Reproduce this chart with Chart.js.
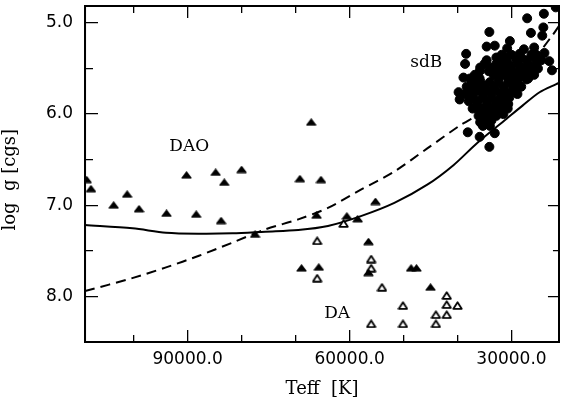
<!DOCTYPE html>
<html>
<head>
<meta charset="utf-8">
<script src="https://cdn.jsdelivr.net/npm/chart.js@4.4.1/dist/chart.umd.min.js"></script>
<style>
html,body{margin:0;padding:0;background:#fff;}
#wrap{width:565px;height:402px;position:relative;}
</style>
</head>
<body>
<div id="wrap"><canvas id="c"></canvas></div>
<script>
// ---------- data ----------
// sdB stars (filled circles)
const sdbTeff = [
  21800, 24000, 27100, 24100, 26400, 24300, 34100, 30300, 34600, 33100,
  30800, 38400, 38600, 27700, 28500, 23000, 25100, 32100, 35800, 38900,
  39800, 39600, 36600, 36400, 35800, 34300, 31500, 30600, 38100, 35900,
  33100, 34100, 28500, 27200, 34600, 25800, 23900, 22500,
  31800, 30000, 26300, 25400,
  32800, 30900, 28200, 25800,
  34600, 30900, 29100, 27200, 24500,
  35000, 32800, 30600, 28700, 26900, 25400,
  33700, 31800, 30000, 28200, 26300,
  35900, 34200, 32400, 30600, 28700, 26900,
  36800, 33300, 31500, 29600, 27800, 25800,
  37700, 35900, 32400, 30600, 28700, 26900,
  37300, 35700, 34000, 32400, 30600, 29100,
  38300, 36600, 35000, 33300, 31500, 29800, 28200,
  37900, 36200, 34600, 32900, 31300, 29600,
  38600, 37000, 35300, 33700, 32000, 30400, 28900,
  37200, 35300, 33700, 32000, 30400,
  37900, 36200, 34400, 32800, 31100,
  36400, 34600, 32900, 31700,
  37200, 35300, 33700, 32200, 30700,
  35500, 33700, 32800,
  36100, 34400, 32800,
  35000, 33700,
  35300, 34000
];
const sdbLogg = [
  4.83, 4.90, 4.95, 5.05, 5.11, 5.14, 5.10, 5.20, 5.26, 5.25,
  5.28, 5.34, 5.45, 5.29, 5.34, 5.42, 5.50, 5.43, 5.49, 5.60,
  5.76, 5.84, 5.71, 5.94, 6.09, 6.00, 6.00, 5.89, 6.20, 6.25,
  6.21, 6.36, 5.69, 5.62, 6.05, 5.27, 5.33, 5.52,
  5.35, 5.35, 5.35, 5.35,
  5.38, 5.38, 5.38, 5.38,
  5.41, 5.41, 5.41, 5.41, 5.41,
  5.45, 5.45, 5.45, 5.45, 5.45, 5.45,
  5.49, 5.49, 5.49, 5.49, 5.49,
  5.53, 5.53, 5.53, 5.53, 5.53, 5.53,
  5.57, 5.57, 5.57, 5.57, 5.57, 5.57,
  5.61, 5.61, 5.61, 5.61, 5.61, 5.61,
  5.65, 5.65, 5.65, 5.65, 5.65, 5.65,
  5.70, 5.70, 5.70, 5.70, 5.70, 5.70, 5.70,
  5.74, 5.74, 5.74, 5.74, 5.74, 5.74,
  5.78, 5.78, 5.78, 5.78, 5.78, 5.78, 5.78,
  5.82, 5.82, 5.82, 5.82, 5.82,
  5.86, 5.86, 5.86, 5.86, 5.86,
  5.90, 5.90, 5.90, 5.90,
  5.94, 5.94, 5.94, 5.94, 5.94,
  5.98, 5.98, 5.98,
  6.02, 6.02, 6.02,
  6.07, 6.07,
  6.13, 6.13
];
// DAO stars (filled triangles)
const daoTeff = [108700, 107900, 103700, 101200, 99000, 93900, 90200, 88400, 84800, 83200,
  83800, 80000, 77500, 69200, 65300, 67100, 66100, 60500, 58500, 55200,
  56500, 68900, 65700, 56500, 48600, 47600, 45000];
const daoLogg = [6.72, 6.82, 7.00, 6.88, 7.04, 7.09, 6.67, 7.10, 6.64, 6.75,
  7.17, 6.61, 7.32, 6.71, 6.72, 6.09, 7.11, 7.12, 7.15, 6.96,
  7.40, 7.69, 7.68, 7.74, 7.69, 7.69, 7.90];
// DA stars (open triangles)
const daTeff = [61100, 66000, 56000, 56000, 66000, 54000, 42000, 50100, 42000, 40000,
  44000, 42000, 56000, 50100, 44000];
const daLogg = [7.20, 7.39, 7.59, 7.69, 7.80, 7.90, 7.99, 8.10, 8.09, 8.10,
  8.20, 8.20, 8.30, 8.30, 8.30];
// solid track
const solidTeff = [109000, 100200, 94000, 87900, 81700, 75600, 69500, 64000, 57900, 51700,
  45600, 40700, 36400, 30900, 27900, 24800, 21700, 21200];
const solidLogg = [7.217, 7.253, 7.301, 7.312, 7.308, 7.290, 7.272, 7.228, 7.120, 6.975,
  6.775, 6.558, 6.320, 6.051, 5.905, 5.761, 5.671, 5.658];
// dashed track
const dashTeff = [109000, 100100, 94000, 87900, 81700, 75600, 69500, 64000, 57900, 51700,
  45600, 39500, 37000, 31500, 25400, 22300, 21200];
const dashLogg = [7.942, 7.797, 7.682, 7.554, 7.410, 7.264, 7.155, 7.029, 6.829, 6.630,
  6.377, 6.123, 6.033, 5.725, 5.362, 5.127, 5.033];
// ticks and tick labels
const xTickValues = [100000, 90000, 80000, 70000, 60000, 50000, 40000, 30000];
const xMajorTicks = [90000, 60000, 30000];
const yTickValues = [5.0, 5.5, 6.0, 6.5, 7.0, 7.5, 8.0];
const yMajorTicks = [5, 6, 7, 8];
// region labels
const regionLabels = ['DAO', 'sdB', 'DA'];
const regionTeff = [89700, 45800, 62300];
const regionLogg = [6.40, 5.48, 8.24];

// ---------- helpers ----------
const pts = (xs, ys) => xs.map((x, i) => ({x: x, y: ys[i]}));

function makeTri(filled) {
  const c = document.createElement('canvas');
  c.width = 11; c.height = filled ? 8 : 9;
  const g = c.getContext('2d');
  g.lineJoin = 'round';
  g.beginPath();
  if (filled) { g.moveTo(5.5, 1.0); g.lineTo(10.0, 6.8); g.lineTo(1.0, 6.8); }
  else { g.moveTo(5.5, 1.3); g.lineTo(9.7, 7.8); g.lineTo(1.3, 7.8); }
  g.closePath();
  g.fillStyle = filled ? '#000' : '#fff';
  g.fill();
  g.lineWidth = filled ? 1.3 : 1.8;
  g.strokeStyle = '#000';
  g.stroke();
  return c;
}
const triFilled = makeTri(true);
const triOpen = makeTri(false);

function tickDash(len, total) {
  return [len, Math.max(0, total - 2 * len), len + 40];
}

const framePlugin = {
  id: 'frame',
  afterDraw(chart) {
    const {ctx, chartArea: a} = chart;
    ctx.save();
    ctx.strokeStyle = '#000';
    ctx.lineWidth = 2;
    ctx.strokeRect(a.left, a.top, a.right - a.left, a.bottom - a.top);
    ctx.restore();
  }
};
const labelPlugin = {
  id: 'regionLabels',
  afterDatasetsDraw(chart) {
    const {ctx, scales} = chart;
    ctx.save();
    ctx.fillStyle = '#000';
    ctx.font = '17px "DejaVu Serif"';
    ctx.textAlign = 'center';
    ctx.textBaseline = 'alphabetic';
    regionLabels.forEach((t, i) => {
      ctx.fillText(t, scales.x.getPixelForValue(regionTeff[i]), scales.y.getPixelForValue(regionLogg[i]));
    });
    ctx.restore();
  }
};

new Chart(document.getElementById('c'), {
  type: 'scatter',
  data: {
    datasets: [
      {
        label: 'sdB', data: pts(sdbTeff, sdbLogg), showLine: false,
        pointStyle: 'circle', pointRadius: 4.5, pointBorderWidth: 1,
        backgroundColor: '#000', borderColor: '#000', clip: 0
      },
      {
        label: 'DAO', data: pts(daoTeff, daoLogg), showLine: false,
        pointStyle: triFilled, pointRadius: 5, clip: 0
      },
      {
        label: 'DA', data: pts(daTeff, daLogg), showLine: false,
        pointStyle: triOpen, pointRadius: 5, clip: 0
      },
      {
        label: 'solid', data: pts(solidTeff, solidLogg), showLine: true,
        pointRadius: 0, borderColor: '#000', borderWidth: 2, tension: 0.3, clip: 0
      },
      {
        label: 'dashed', data: pts(dashTeff, dashLogg), showLine: true,
        pointRadius: 0, borderColor: '#000', borderWidth: 2, borderDash: [10, 6], tension: 0.3, clip: 0
      }
    ]
  },
  options: {
    responsive: true,
    maintainAspectRatio: false,
    animation: false,
    layout: {padding: {top: 3, right: 2, left: 0, bottom: 0}},
    plugins: {legend: {display: false}, tooltip: {enabled: false}},
    scales: {
      x: {
        type: 'linear', position: 'bottom', reverse: true, min: 21200, max: 109000,
        afterBuildTicks: s => { s.ticks = xTickValues.map(v => ({value: v})); },
        ticks: {
          autoSkip: false, maxRotation: 0, minRotation: 0,
          padding: 7.3, color: '#000', font: {family: 'DejaVu Sans', size: 17},
          callback: v => xMajorTicks.includes(v) ? v.toFixed(1) : ''
        },
        grid: {drawTicks: false, drawOnChartArea: true, color: '#000', lineWidth: 1.3},
        border: {
          display: true, color: '#000', width: 2,
          dash: c => c.tick ? tickDash(xMajorTicks.includes(c.tick.value) ? 12 : 7, c.chart.chartArea.height) : []
        },
        title: {
          display: true, text: 'Teff  [K]', color: '#000',
          font: {family: 'DejaVu Serif', size: 18}, padding: {top: 2, bottom: 1.4}
        }
      },
      y: {
        type: 'linear', position: 'left', reverse: true, min: 4.815, max: 8.5,
        afterBuildTicks: s => { s.ticks = yTickValues.map(v => ({value: v})); },
        ticks: {
          autoSkip: false, padding: 0, color: '#000',
          font: {family: 'DejaVu Sans', size: 17, lineHeight: 0.1},
          callback: v => yMajorTicks.includes(v) ? v.toFixed(1) : ''
        },
        grid: {drawTicks: true, tickLength: 12, tickColor: 'rgba(0,0,0,0)', drawOnChartArea: true, color: '#000', lineWidth: 1.3},
        border: {
          display: true, color: '#000', width: 2,
          dash: c => c.tick ? tickDash(yMajorTicks.includes(c.tick.value) ? 12 : 7, c.chart.chartArea.width) : []
        },
        title: {
          display: true, text: 'log  g [cgs]\u00a0\u00a0', color: '#000',
          font: {family: 'DejaVu Serif', size: 18}, padding: {top: 0, bottom: 24.4}
        }
      }
    }
  },
  plugins: [labelPlugin, framePlugin]
});
</script>
</body>
</html>
